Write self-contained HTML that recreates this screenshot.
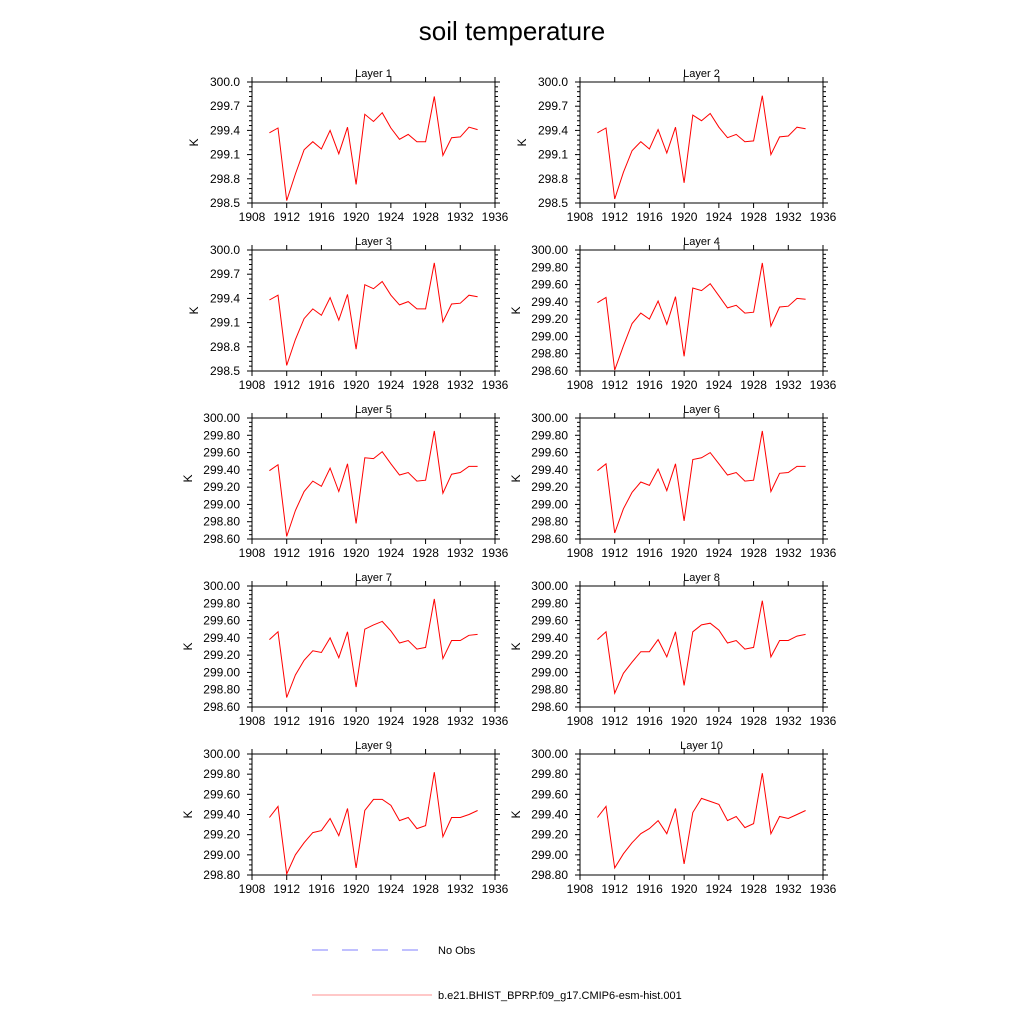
<!DOCTYPE html>
<html><head><meta charset="utf-8"><style>
body{margin:0;background:#fff;}
svg{display:block;font-family:"Liberation Sans",sans-serif;}
</style></head><body>
<svg id="chart" width="1024" height="1024" xmlns="http://www.w3.org/2000/svg">
<text x="512" y="40" font-size="26" text-anchor="middle">soil temperature</text>
<g id="panels"></g>
<g>
<line x1="312" y1="950" x2="418" y2="950" stroke="#8080ff" stroke-width="1" stroke-dasharray="16,14"/>
<text x="438" y="954" font-size="11">No Obs</text>
<line x1="312" y1="995" x2="432" y2="995" stroke="#ff9090" stroke-width="1"/>
<text x="438" y="999" font-size="11">b.e21.BHIST_BPRP.f09_g17.CMIP6-esm-hist.001</text>
</g>
</svg>
<script>
const years = [1910,1911,1912,1913,1914,1915,1916,1917,1918,1919,1920,1921,1922,1923,1924,1925,1926,1927,1928,1929,1930,1931,1932,1933,1934];
const xTicks = [1908,1912,1916,1920,1924,1928,1932,1936];
const layerTitles = ["Layer 1","Layer 2","Layer 3","Layer 4","Layer 5","Layer 6","Layer 7","Layer 8","Layer 9","Layer 10"];
const layer1 = [299.37,299.43,298.53,298.86,299.16,299.26,299.17,299.40,299.11,299.44,298.73,299.60,299.51,299.62,299.43,299.29,299.35,299.26,299.26,299.82,299.09,299.31,299.32,299.44,299.41];
const layer2 = [299.37,299.43,298.55,298.88,299.15,299.26,299.17,299.41,299.12,299.44,298.75,299.59,299.52,299.61,299.44,299.31,299.35,299.26,299.27,299.83,299.10,299.32,299.33,299.44,299.42];
const layer3 = [299.38,299.44,298.57,298.89,299.15,299.27,299.19,299.41,299.13,299.45,298.77,299.57,299.52,299.61,299.44,299.32,299.36,299.27,299.27,299.84,299.11,299.33,299.34,299.44,299.42];
const layer4 = [299.39,299.45,298.61,298.89,299.15,299.27,299.20,299.41,299.14,299.46,298.77,299.56,299.53,299.61,299.47,299.33,299.36,299.27,299.28,299.85,299.12,299.34,299.35,299.44,299.43];
const layer5 = [299.39,299.46,298.63,298.93,299.15,299.27,299.21,299.42,299.15,299.47,298.78,299.54,299.53,299.61,299.47,299.34,299.37,299.27,299.28,299.85,299.13,299.35,299.37,299.44,299.44];
const layer6 = [299.39,299.47,298.67,298.95,299.14,299.26,299.22,299.41,299.16,299.47,298.81,299.52,299.54,299.60,299.47,299.34,299.37,299.27,299.28,299.85,299.15,299.36,299.37,299.44,299.44];
const layer7 = [299.38,299.47,298.71,298.97,299.14,299.25,299.23,299.40,299.17,299.47,298.83,299.50,299.55,299.59,299.48,299.34,299.37,299.27,299.29,299.85,299.16,299.37,299.37,299.43,299.44];
const layer8 = [299.38,299.47,298.76,298.99,299.12,299.24,299.24,299.38,299.18,299.47,298.85,299.47,299.55,299.57,299.49,299.34,299.37,299.27,299.29,299.83,299.18,299.37,299.37,299.42,299.44];
const layer9 = [299.37,299.48,298.81,299.00,299.12,299.22,299.24,299.36,299.19,299.46,298.87,299.44,299.55,299.55,299.49,299.34,299.37,299.26,299.29,299.82,299.18,299.37,299.37,299.40,299.44];
const layer10 = [299.37,299.48,298.87,299.01,299.12,299.21,299.26,299.34,299.21,299.46,298.91,299.42,299.56,299.53,299.50,299.34,299.38,299.27,299.31,299.81,299.21,299.38,299.36,299.40,299.44];
const yTicksA = ["298.5","298.8","299.1","299.4","299.7","300.0"];
const yTicksB = ["298.60","298.80","299.00","299.20","299.40","299.60","299.80","300.00"];
const yTicksC = ["298.80","299.00","299.20","299.40","299.60","299.80","300.00"];
const series = [layer1,layer2,layer3,layer4,layer5,layer6,layer7,layer8,layer9,layer10];
const tickSets = [yTicksA,yTicksA,yTicksA,yTicksB,yTicksB,yTicksB,yTicksB,yTicksB,yTicksC,yTicksC];

const NS="http://www.w3.org/2000/svg";
const root=document.getElementById('panels');
function mk(tag,attrs,parent){const e=document.createElementNS(NS,tag);for(const k in attrs)e.setAttribute(k,attrs[k]);parent.appendChild(e);return e;}
const W=243,H=121;
for(let i=0;i<10;i++){
  const col=i%2,row=Math.floor(i/2);
  const x0=col?580:252, y0=82+row*168;
  const g=mk('g',{},root);
  
  
  const ticks=tickSets[i].map(Number);
  const ymin=ticks[0], ymax=ticks[ticks.length-1], step=ticks[1]-ticks[0];
  const xs=v=>x0+(v-1908)/28*W;
  const ys=v=>y0+H-(v-ymin)/(ymax-ymin)*H;
  const t=mk('text',{x:x0+W/2,y:y0-5,'font-size':11,'text-anchor':'middle'},g);
  
  
  t.textContent=layerTitles[i];
  const yl=mk('text',{x:0,y:0,'font-size':12,'text-anchor':'middle',transform:`translate(${x0-54+(tickSets[i][0].length>5?-6:0)},${y0+H/2}) rotate(-90)`},g);
  
  
  yl.textContent='K';
  const box=mk('rect',{x:x0,y:y0,width:W,height:H,fill:'none',stroke:'#000','stroke-width':1},g);
  
  
  // x ticks
  xTicks.forEach(v=>{
    const X=xs(v);
    mk('line',{x1:X,y1:y0+H,x2:X,y2:y0+H+5,stroke:'#000'},g);
    mk('line',{x1:X,y1:y0,x2:X,y2:y0-5,stroke:'#000'},g);
    const lt=mk('text',{x:X,y:y0+H+18,'font-size':12,'text-anchor':'middle'},g);
    
    
    lt.textContent=v;
  });
  // y ticks
  const nMinor = tickSets[i][0].length>5 ? 4 : 5;
  ticks.forEach((v,k)=>{
    const Y=ys(v);
    mk('line',{x1:x0,y1:Y,x2:x0-5,y2:Y,stroke:'#000'},g);
    mk('line',{x1:x0+W,y1:Y,x2:x0+W+5,y2:Y,stroke:'#000'},g);
    const lt=mk('text',{x:x0-12,y:Y+4,'font-size':12,'text-anchor':'end'},g);
    
    
    lt.textContent=tickSets[i][k];
    if(k<ticks.length-1){for(let m=1;m<nMinor;m++){const Ym=ys(v+step*m/nMinor);
      mk('line',{x1:x0,y1:Ym,x2:x0-3,y2:Ym,stroke:'#000'},g);
      mk('line',{x1:x0+W,y1:Ym,x2:x0+W+3,y2:Ym,stroke:'#000'},g);}}
  });
  const pts=years.map((yr,k)=>xs(yr).toFixed(1)+','+ys(series[i][k]).toFixed(1)).join(' ');
  const pl=mk('polyline',{points:pts,fill:'none',stroke:'#ff0000','stroke-width':1},g);
  
  
}
</script>
</body></html>
